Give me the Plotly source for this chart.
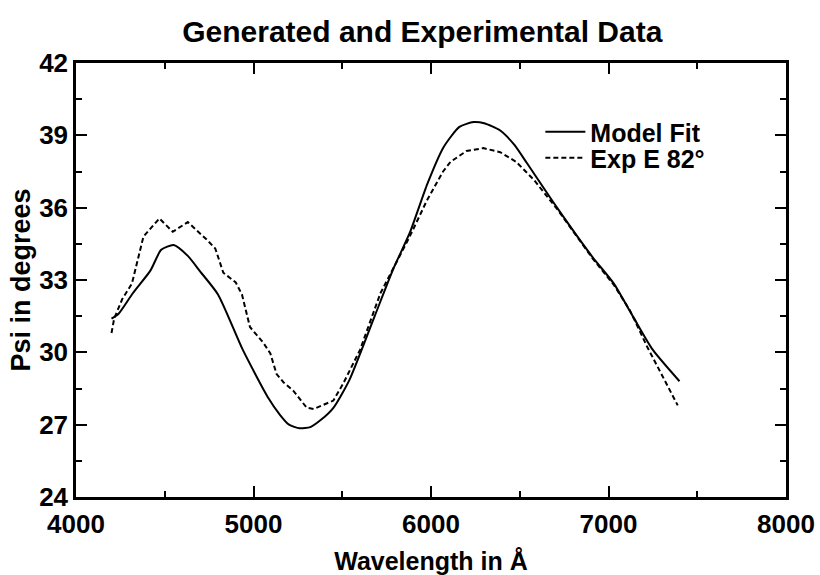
import plotly.graph_objects as go

# Model fit (solid)
model_wl = [4200, 4240, 4320, 4420, 4480, 4550, 4630, 4700, 4800, 4940, 5080, 5150, 5200,
            5260, 5320, 5380, 5450, 5540, 5680, 5790, 5880, 5980, 6070, 6160, 6240, 6300,
            6390, 6470, 6540, 6710, 6910, 7030, 7140, 7250, 7400]
model_psi = [31.4, 31.6, 32.45, 33.4, 34.25, 34.45, 34.0, 33.35, 32.4, 30.1, 28.15, 27.4, 27.0,
             26.85, 26.9, 27.2, 27.7, 28.85, 31.45, 33.5, 34.95, 37.0, 38.5, 39.35, 39.55, 39.5,
             39.2, 38.6, 37.85, 36.0, 33.95, 32.85, 31.46, 30.1, 28.8]

# Experimental data (dashed)
exp_wl = [4200, 4215, 4260, 4315, 4380, 4470, 4545, 4630, 4740, 4785, 4830, 4900, 4935,
          4980, 5055, 5095, 5130, 5170, 5225, 5300, 5340, 5450, 5505, 5600, 5715, 5825,
          5880, 5977, 6030, 6068, 6110, 6163, 6200, 6295, 6390, 6480, 6580, 6710, 6910,
          7030, 7120, 7220, 7310, 7390]
exp_psi = [30.8, 31.4, 32.2, 32.85, 34.8, 35.55, 35.0, 35.4, 34.65, 34.3, 33.3, 32.9, 32.4,
           31.05, 30.4, 29.95, 29.1, 28.75, 28.4, 27.7, 27.65, 28.0, 28.7, 30.1, 32.45, 34.0,
           34.8, 36.3, 37.0, 37.5, 37.9, 38.15, 38.35, 38.47, 38.3, 37.9, 37.15, 35.95, 33.9,
           32.8, 31.75, 30.2, 28.95, 27.8]

x_ticks = [4000, 5000, 6000, 7000, 8000]
y_ticks = [24, 27, 30, 33, 36, 39, 42]

FONT = "Liberation Sans, Arial, sans-serif"

fig = go.Figure()
fig.add_trace(go.Scatter(x=model_wl, y=model_psi, mode="lines", name="Model Fit",
                         legend="legend",
                         line=dict(color="black", width=2, shape="spline", smoothing=0.6)))
fig.add_trace(go.Scatter(x=exp_wl, y=exp_psi, mode="lines", name="Exp E 82°",
                         legend="legend2",
                         line=dict(color="black", width=2, dash="5px,3px")))

axis_common = dict(showline=True, linecolor="black", linewidth=2.5, mirror="ticks",
                   ticks="inside", tickcolor="black", tickwidth=2, ticklen=11,
                   showgrid=False, zeroline=False, automargin=False,
                   tickfont=dict(family=FONT, size=26, color="black", weight="bold"))

fig.update_xaxes(range=[4000, 8000], tickvals=x_ticks, ticktext=[str(v) for v in x_ticks],
                 minor=dict(ticks="inside", ticklen=6, dtick=500, tickcolor="black", tickwidth=2),
                 ticklabelstandoff=2,
                 title=dict(text="Wavelength in Å",
                            font=dict(family=FONT, size=25, color="black", weight="bold"),
                            standoff=18),
                 **axis_common)
fig.update_yaxes(range=[24, 42], tickvals=y_ticks, ticktext=[str(v) for v in y_ticks],
                 minor=dict(ticks="inside", ticklen=6, dtick=1.5, tickcolor="black", tickwidth=2),
                 title=dict(text="Psi in degrees",
                            font=dict(family=FONT, size=27, color="black", weight="bold"),
                            standoff=1),
                 **axis_common)

leg_common = dict(xanchor="left", yanchor="middle", bgcolor="rgba(0,0,0,0)",
                  itemwidth=40, borderwidth=0,
                  font=dict(family=FONT, size=25, color="black", weight="bold"))

fig.update_layout(
    width=820, height=575,
    margin=dict(l=76, r=34, t=63, b=78),
    paper_bgcolor="white", plot_bgcolor="white",
    title=dict(text="Generated and Experimental Data", x=0.515, xanchor="center",
               y=0.945, yanchor="middle",
               font=dict(family=FONT, size=30, color="black", weight="bold")),
    legend=dict(x=0.654, y=(497 - 132) / 434, **leg_common),
    legend2=dict(x=0.654, y=(497 - 158) / 434, **leg_common),
    showlegend=True,
)

fig.write_html("out.html")
